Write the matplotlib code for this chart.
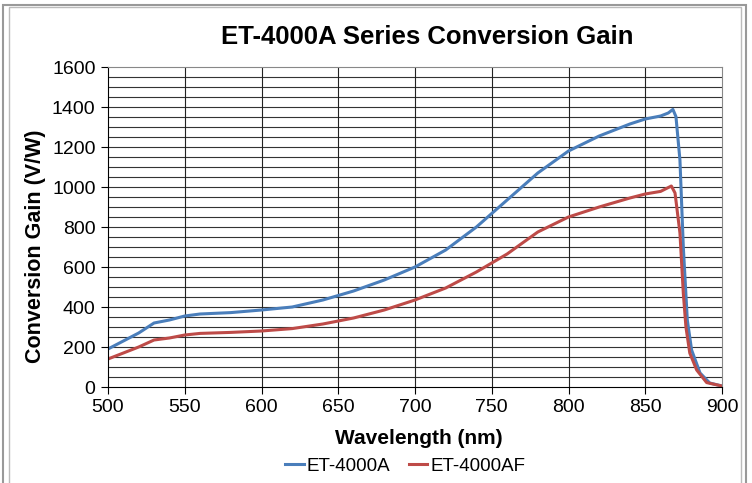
import matplotlib
matplotlib.use("Agg")
import matplotlib.pyplot as plt
from matplotlib.patches import Rectangle
import numpy as np

plt.rcParams["font.family"] = ["Liberation Sans", "DejaVu Sans"]

# ET-4000A (blue)
wl_a = [500, 510, 520, 530, 540, 550, 560, 580, 600, 620, 640, 660, 680, 700,
        720, 740, 760, 780, 800, 820, 840, 850, 860, 865, 868, 870, 872.6,
        874.8, 877.4, 880.2, 885.7, 892, 900]
gain_a = [190, 230, 270, 320, 335, 355, 365, 372, 385, 400, 435, 480, 535, 600,
          685, 800, 935, 1070, 1180, 1255, 1315, 1340, 1355, 1370, 1388, 1352,
          1135, 700, 335, 185, 70, 20, 5]

# ET-4000AF (red)
wl_af = [500, 510, 520, 530, 540, 550, 560, 580, 600, 620, 640, 660, 680, 700,
         720, 740, 760, 780, 800, 820, 840, 850, 860, 867, 869.4, 872.6, 874.8,
         876.5, 879, 883.5, 890, 900]
gain_af = [140, 170, 200, 235, 245, 260, 268, 273, 280, 292, 315, 345, 385, 435,
           495, 575, 665, 775, 850, 900, 945, 965, 978, 1005, 970, 770, 468,
           300, 170, 85, 22, 5]

W, H = 752, 483
fig = plt.figure(figsize=(W / 100, H / 100), dpi=100)
ax = fig.add_axes([108 / W, 1 - 387 / H, 614 / W, 320 / H])

for v in np.arange(50, 1600, 50):
    ax.axhline(v, color="#333333", lw=0.8, zorder=0)
for v in np.arange(550, 900, 50):
    ax.axvline(v, color="#222222", lw=0.8, zorder=0)

ax.plot(wl_a, gain_a, color="#4A7EBB", lw=2.2, label="ET-4000A")
ax.plot(wl_af, gain_af, color="#BE4B48", lw=2.2, label="ET-4000AF")

ax.set_xlim(500, 900)
ax.set_ylim(0, 1600)
ax.set_xticks(np.arange(500, 901, 50))
ax.set_yticks(np.arange(0, 1601, 200))
ax.tick_params(labelsize=14, length=5, width=0.8, direction="out", pad=4)
ax.spines["top"].set_color("#888888")
ax.spines["right"].set_color("#888888")

fig.text(427 / W, 1 - 37 / H, "ET-4000A Series Conversion Gain",
         fontsize=18.5, fontweight="bold", ha="center", va="center")
fig.text(419 / W, 1 - 438 / H, "Wavelength (nm)",
         fontsize=15, fontweight="bold", ha="center", va="center")
fig.text(36 / W, 1 - 246 / H, "Conversion Gain (V/W)", rotation=90,
         fontsize=15.5, fontweight="bold", ha="center", va="center")

ax.legend(loc="center", bbox_to_anchor=(405 / W, 1 - 466 / H),
          bbox_transform=fig.transFigure, ncol=2, frameon=False,
          fontsize=13.5, handlelength=1.0, handletextpad=0.15, columnspacing=1.0)

fig.patches.append(Rectangle((0.004, -0.01), 0.988, 1.0, transform=fig.transFigure,
                             fill=False, edgecolor="#999999", lw=1.5))
fig.patches.append(Rectangle((0.012, -0.01), 0.974, 0.995, transform=fig.transFigure,
                             fill=False, edgecolor="#bbbbbb", lw=1.0))

fig.savefig("out.png", dpi=100)
